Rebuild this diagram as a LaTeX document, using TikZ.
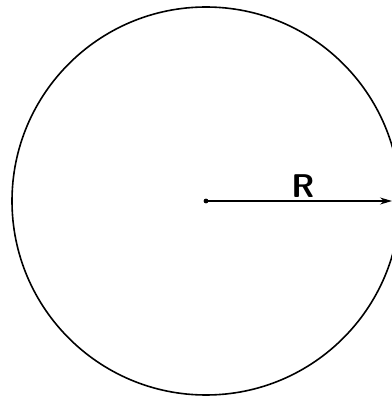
\documentclass[tikz,border=0pt]{standalone}
\usepackage{tikz}
\usetikzlibrary{positioning,arrows.meta}
\tikzset{
  rim/.style={line width=1.6pt},
  radius line/.style={line width=1.2pt,-{Stealth[length=12pt,width=7pt]}},
  rlabel/.style={font=\sffamily\bfseries\fontsize{33}{33}\selectfont,inner sep=0pt}
}

\begin{document}
\begin{tikzpicture}[x=1bp,y=1bp]
\useasboundingbox (0,0) rectangle (392,398);
\clip (0,0) rectangle (392,398);
\coordinate (O) at (206,197);
\coordinate (tip) at (392,197);
\draw[rim] (O) circle[radius=194];
\fill (O) circle[radius=2.4];
\draw[radius line] (O) -- (tip);
\node[rlabel,above=3bp of O,xshift=97bp] (R) {R};
\end{tikzpicture}
\end{document}
